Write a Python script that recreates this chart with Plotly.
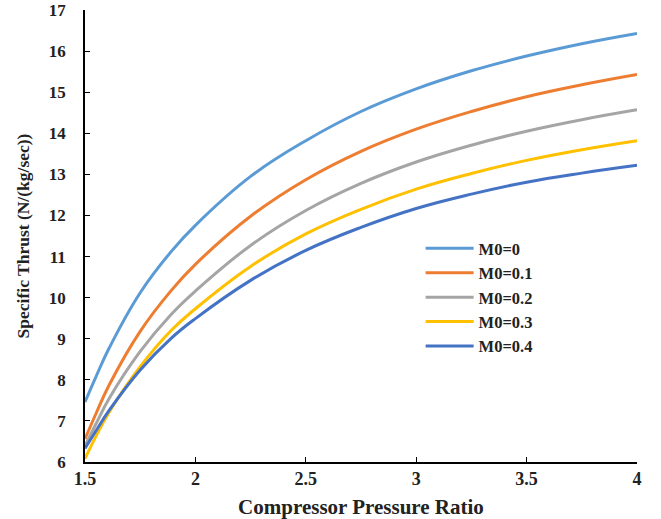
import plotly.graph_objects as go

# 壓縮機壓比
pressure_ratio = [1.5, 1.55, 1.61, 1.75, 1.89, 2.0, 2.25, 2.5, 2.75, 3.0, 3.25, 3.5, 3.75, 4.0]

# 比推力 (N/(kg/sec))，各飛行馬赫數
thrust_m00 = [7.46, 8.08, 8.78, 10.12, 11.12, 11.76, 12.95, 13.82, 14.53, 15.08, 15.52, 15.88, 16.18, 16.43]
thrust_m01 = [6.56, 7.18, 7.88, 9.18, 10.17, 10.81, 11.98, 12.87, 13.56, 14.10, 14.53, 14.89, 15.18, 15.43]
thrust_m02 = [6.39, 6.93, 7.55, 8.69, 9.59, 10.16, 11.27, 12.12, 12.78, 13.30, 13.71, 14.05, 14.33, 14.57]
thrust_m03 = [6.08, 6.63, 7.22, 8.32, 9.20, 9.73, 10.76, 11.55, 12.15, 12.64, 13.02, 13.34, 13.60, 13.82]
thrust_m04 = [6.33, 6.76, 7.26, 8.24, 9.01, 9.49, 10.42, 11.15, 11.71, 12.17, 12.52, 12.81, 13.03, 13.22]

series_names = ['M0=0', 'M0=0.1', 'M0=0.2', 'M0=0.3', 'M0=0.4']
series_values = [thrust_m00, thrust_m01, thrust_m02, thrust_m03, thrust_m04]
series_colors = ['#5B9BD5', '#ED7D31', '#A5A5A5', '#FFC000', '#4472C4']

font_family = 'Liberation Serif'
text_color = '#222222'

fig = go.Figure()

for name, values, color in zip(series_names, series_values, series_colors):
    fig.add_trace(
        go.Scatter(
            x=pressure_ratio,
            y=values,
            mode='lines',
            name=name,
            line=dict(color=color, width=3, shape='spline', smoothing=1.2)
        )
    )

axis_common = dict(
    showgrid=False,
    zeroline=False,
    showline=True,
    linecolor='black',
    linewidth=1.5,
    ticks='inside',
    tickcolor='black',
    tickwidth=1.2,
    ticklen=5,
    automargin=False,
)

fig.update_xaxes(
    range=[1.5, 4],
    tickvals=[1.5, 2, 2.5, 3, 3.5, 4],
    ticktext=['<b>1.5</b>', '<b>2</b>', '<b>2.5</b>', '<b>3</b>', '<b>3.5</b>', '<b>4</b>'],
    tickfont=dict(family=font_family, size=18, color=text_color),
    title=dict(text='<b>Compressor Pressure Ratio</b>',
               font=dict(family=font_family, size=21, color=text_color)),
    **axis_common
)

fig.update_yaxes(
    range=[6, 17],
    tickvals=list(range(6, 18)),
    ticktext=[f'<b>{v}</b>' for v in range(6, 18)],
    tickfont=dict(family=font_family, size=17, color=text_color),
    ticklabelstandoff=14,
    title=dict(text='<b>Specific Thrust (N/(kg/sec))</b>',
               font=dict(family=font_family, size=17.5, color=text_color)),
    **axis_common
)

fig.update_layout(
    width=661,
    height=519,
    margin=dict(l=85, r=24, t=10, b=57),
    plot_bgcolor='white',
    paper_bgcolor='white',
    showlegend=True,
    legend=dict(
        x=0.608,
        y=0.511,
        xanchor='left',
        yanchor='top',
        font=dict(family=font_family, size=16.5, color=text_color, weight='bold'),
        bgcolor='rgba(0,0,0,0)',
        tracegroupgap=0,
        itemwidth=48,
    ),
)

# 去掉頁面預設的 body 邊距，讓圖面貼齊視窗左上角
fig.write_html("out.html",
               config={'displayModeBar': False},
               post_script="document.body.style.margin='0';")
